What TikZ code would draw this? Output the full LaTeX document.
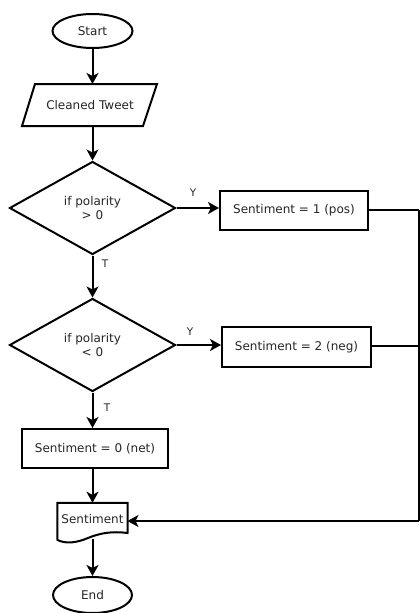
\documentclass[tikz,border=0pt]{standalone}
\usepackage{fontspec}
\setmainfont{DejaVu Sans}
\usetikzlibrary{shapes.geometric,arrows.meta,calc}
\begin{document}
\begin{tikzpicture}[x=1pt,y=-1pt,
  every node/.style={font=\fontsize{12}{14}\selectfont, text=black!85, inner sep=0pt},
  ln/.style={line width=2pt, draw=black},
  arr/.style={ln, -{Stealth[length=11pt,width=12pt,inset=3pt]}},
  term/.style={ellipse, ln, minimum width=80pt, minimum height=34pt},
  dec/.style={diamond, ln, minimum width=166pt, minimum height=93pt, align=center},
  proc/.style={rectangle, ln, minimum height=39pt},
  lbl/.style={font=\fontsize{10.5}{12}\selectfont}]
\useasboundingbox (0,0) rectangle (420,613);
\fill[white] (0,0) rectangle (420,613);

\node[term] (start) at (92.5,31) {Start};
\node (tweet) at (90,105) {Cleaned Tweet};
\draw[ln] (35,84) -- (157,84) -- (143,126) -- (22,126) -- cycle;
\coordinate (tweetN) at (92.5,84);
\coordinate (tweetS) at (92.5,126);

\node[dec] (d1) at (92.5,208) {if polarity\\ > 0};
\node[proc, minimum width=148pt] (b1) at (294,210) {Sentiment = 1 (pos)};
\node[dec] (d2) at (92.5,345) {if polarity\\ < 0};
\node[proc, minimum width=149pt, minimum height=40pt] (b2) at (296.5,347) {Sentiment = 2 (neg)};
\node[proc, minimum width=146pt] (b3) at (95,448.5) {Sentiment = 0 (net)};

\node[minimum width=70pt, minimum height=32pt] (doc) at (92.5,519) {Sentiment};
\draw[ln] (doc.north west) -- (doc.north east) -- (127.5,533)
  .. controls (112,531) and (100,533) .. (88,538)
  .. controls (76,543) and (66,544) .. (57.5,540) -- cycle;
\coordinate (docS) at (92.5,539);

\node[term, minimum width=79pt, minimum height=36pt] (end) at (92.5,595) {End};

\coordinate (r1) at (419,210);
\coordinate (r2) at (419,346);
\coordinate (r3) at (419,521);
\coordinate (docE) at (127.5,521);

\draw[arr] (start) -- (tweetN);
\draw[arr] (tweetS) -- (d1.north);
\draw[arr] (d1.east) -- (b1.west |- d1.east);
\draw[arr] (d1.south) -- (d2.north);
\draw[arr] (d2.east) -- (b2.west |- d2.east);
\draw[arr] (d2.south) -- (d2.south |- b3.north);
\draw[arr] (b3.south -| doc.north) -- (doc.north);
\draw[arr] (docS) -- (end.north);
\draw[ln] (b1.east) -- (r1);
\draw[ln] (b2.east |- r2) -- (r2);
\draw[ln] (r1) -- (r3);
\draw[arr] (r3) -- (docE);

\node[lbl] (y1) at (193,193) {Y};
\node[lbl] (t1) at (105,264) {T};
\node[lbl] (y2) at (190,332) {Y};
\node[lbl] (t2) at (107,408) {T};
\end{tikzpicture}
\end{document}
